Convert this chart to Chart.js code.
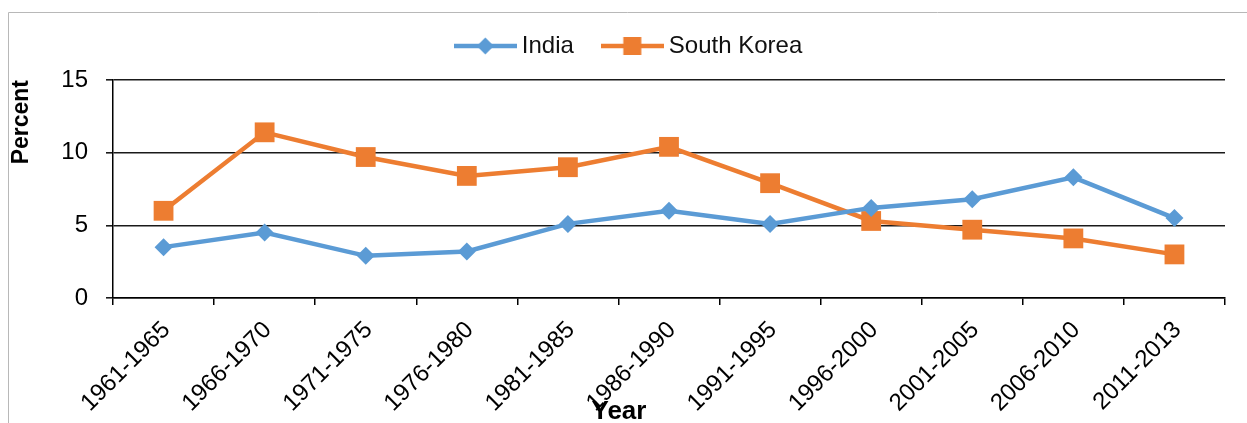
<!DOCTYPE html>
<html>
<head>
<meta charset="utf-8">
<script src="https://cdn.jsdelivr.net/npm/chart.js@4.4.1/dist/chart.umd.min.js"></script>
<style>
  html, body { margin: 0; padding: 0; background: #ffffff; }
  #wrap { width: 1247px; height: 423px; position: relative; }
</style>
</head>
<body>
<div id="wrap"><canvas id="chart" width="1247" height="423"></canvas></div>
<script>
// Five-year periods on the category axis
const periods = ['1961-1965', '1966-1970', '1971-1975', '1976-1980', '1981-1985',
  '1986-1990', '1991-1995', '1996-2000', '2001-2005', '2006-2010', '2011-2013'];

// Average annual growth, percent
const india = [3.5, 4.5, 2.9, 3.2, 5.1, 6.0, 5.1, 6.2, 6.8, 8.3, 5.5];
const southKorea = [6.0, 11.4, 9.7, 8.4, 9.0, 10.4, 7.9, 5.3, 4.7, 4.1, 3.0];

// Value axis ticks
const yTicks = [0, 5, 10, 15];

const FONT = '"Liberation Sans", Arial, Helvetica, sans-serif';
const BLUE = '#5B9BD5';
const ORANGE = '#ED7D31';

// Legend swatch: a short line segment with the series marker in its middle
function swatch(color, shape) {
  const c = document.createElement('canvas');
  c.width = 63; c.height = 24;
  const g = c.getContext('2d');
  g.strokeStyle = color; g.lineWidth = 4.5;
  g.beginPath(); g.moveTo(0, 12); g.lineTo(63, 12); g.stroke();
  g.fillStyle = color;
  g.beginPath();
  if (shape === 'diamond') {
    g.moveTo(31.5, 3.5); g.lineTo(40, 12); g.lineTo(31.5, 20.5); g.lineTo(23, 12);
  } else {
    g.rect(22.5, 3, 18, 18);
  }
  g.closePath(); g.fill();
  return c;
}
const swatches = [swatch(BLUE, 'diamond'), swatch(ORANGE, 'square')];

// Extra room under the legend, and a small nudge of the legend row to the right
const legendSpacing = {
  id: 'legendSpacing',
  afterInit(chart) {
    const lg = chart.legend;
    if (!lg) return;
    const fit = lg.fit.bind(lg);
    lg.fit = function () { fit(); this.height += 12; };
  },
  afterLayout(chart) {
    const lg = chart.legend;
    if (!lg) return;
    lg.left += 15;
    lg.right += 15;
  }
};

// Thin grey frame around the chart and the horizontal axis title
const decorations = {
  id: 'decorations',
  beforeDraw(chart) {
    const ctx = chart.ctx;
    ctx.save();
    ctx.strokeStyle = '#b8b8b8';
    ctx.lineWidth = 1;
    ctx.beginPath();
    ctx.moveTo(8.5, chart.height);
    ctx.lineTo(8.5, 12.5);
    ctx.lineTo(chart.width, 12.5);
    ctx.stroke();
    ctx.restore();
  },
  afterDraw(chart) {
    const ctx = chart.ctx;
    const a = chart.chartArea;
    ctx.save();
    ctx.fillStyle = '#000000';
    ctx.font = 'bold 26px ' + FONT;
    ctx.textAlign = 'center';
    ctx.textBaseline = 'middle';
    ctx.fillText('Year', a.left + (a.right - a.left) * 0.455, 412);
    ctx.restore();
  }
};

new Chart(document.getElementById('chart'), {
  type: 'line',
  data: {
    labels: periods,
    datasets: [
      {
        label: 'India',
        data: india,
        borderColor: BLUE,
        backgroundColor: BLUE,
        borderWidth: 4.5,
        pointStyle: 'rectRot',
        pointRadius: 9,
        pointHoverRadius: 9,
        pointBorderWidth: 0,
        tension: 0
      },
      {
        label: 'South Korea',
        data: southKorea,
        borderColor: ORANGE,
        backgroundColor: ORANGE,
        borderWidth: 4.5,
        pointStyle: 'rect',
        pointRadius: 14,
        pointHoverRadius: 14,
        pointBorderWidth: 0,
        tension: 0
      }
    ]
  },
  options: {
    responsive: false,
    animation: false,
    events: [],
    layout: { padding: { left: 8, right: 22, top: 0, bottom: 0 } },
    plugins: {
      tooltip: { enabled: false },
      legend: {
        display: true,
        position: 'top',
        align: 'center',
        labels: {
          usePointStyle: true,
          pointStyleWidth: 49,
          boxHeight: 24,
          padding: 34,
          color: '#111111',
          font: { family: FONT, size: 24 },
          generateLabels(chart) {
            const items = Chart.defaults.plugins.legend.labels.generateLabels(chart);
            items.forEach((it, i) => { it.pointStyle = swatches[i]; });
            return items;
          }
        }
      }
    },
    scales: {
      x: {
        type: 'category',
        offset: true,
        grid: {
          offset: true,
          drawOnChartArea: false,
          drawTicks: true,
          tickLength: 7,
          color: '#000000',
          lineWidth: 1.5
        },
        border: { display: true, color: '#000000', width: 1.5 },
        ticks: {
          autoSkip: false,
          minRotation: 45,
          maxRotation: 45,
          padding: 11,
          labelOffset: 3,
          color: '#000000',
          font: { family: FONT, size: 24 }
        },
        afterFit(scale) { scale.height = 125; }
      },
      y: {
        min: 0,
        max: 15,
        afterBuildTicks(scale) { scale.ticks = yTicks.map(v => ({ value: v })); },
        grid: {
          color: '#1a1a1a',
          lineWidth: 1.6,
          drawTicks: true,
          tickLength: 7
        },
        border: { display: true, color: '#000000', width: 1.5 },
        ticks: {
          padding: 18,
          color: '#000000',
          font: { family: FONT, size: 24 }
        },
        title: {
          display: true,
          text: 'Percent',
          align: 'end',
          color: '#000000',
          padding: { top: 0, bottom: 0 },
          font: { family: FONT, size: 23, weight: 'bold' }
        },
        afterFit(scale) { scale.width = 105; }
      }
    }
  },
  plugins: [legendSpacing, decorations]
});
</script>
</body>
</html>
